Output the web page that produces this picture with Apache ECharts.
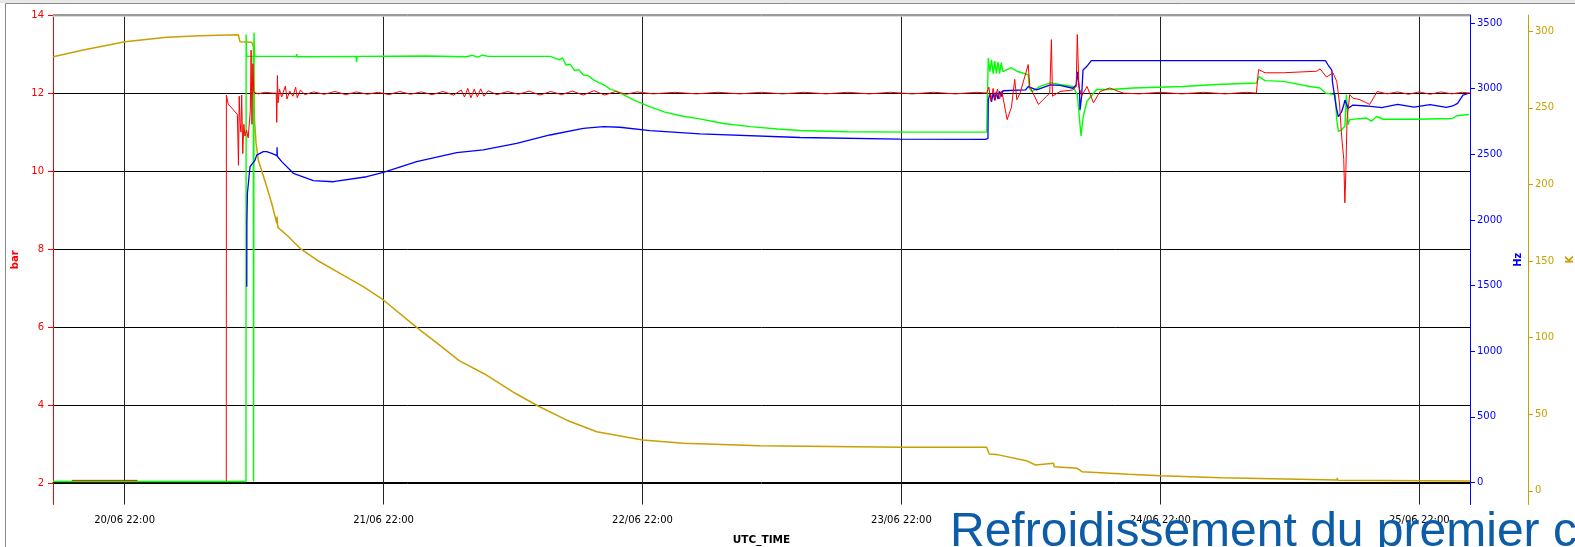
<!DOCTYPE html>
<html>
<head>
<meta charset="utf-8">
<title>Refroidissement du premier c</title>
<script src="https://cdn.jsdelivr.net/npm/echarts@6/dist/echarts.min.js"></script>
</head>
<body style="margin:0;background:#fff">
<div id="main" style="width:1575px;height:547px;"></div>
<script>
// time in hours since 20/06 00:00 UTC
const dayTicks = [22, 46, 70, 94, 118, 142];
const barTicks = [2, 4, 6, 8, 10, 12, 14];
const hzTicks = [0, 500, 1000, 1500, 2000, 2500, 3000, 3500];
const kTicks = [0, 50, 100, 150, 200, 250, 300];

// red - pressure (bar)
const redTime = [17.1, 23.2, 23.3,
  31.42, 31.43, 31.6, 32.05, 32.45, 32.55, 32.62, 32.7, 32.78, 32.85, 32.95, 33.05, 33.15, 33.3, 33.45, 33.55, 33.65, 33.72, 33.8, 33.88, 33.98,
  34.4, 35.0, 35.7, 36.05, 36.1, 36.16, 36.22, 36.35, 36.55, 36.9, 37.05, 37.3, 37.6, 37.85, 38.0, 38.3, 38.7,
  39.5, 40.5, 41.5, 42.5, 43.5, 44.5, 45.5, 46.5, 47.5, 48.5, 49.5, 50.5, 51.5, 52.5, 53.2, 53.5, 53.8, 54.1, 54.4, 54.7, 55.0, 55.3, 55.7,
  56.5, 57.5, 58.5, 59.5, 60.5, 61.5, 62.5, 63.5, 64.5, 65.5, 66.5, 67.5, 68.5, 69.5, 71, 73, 75, 77, 79, 81, 83, 85, 87, 89, 91, 93, 95, 97, 99, 101, 101.9,
  102.1, 102.3, 102.5, 102.7, 102.9, 103.1, 103.3, 103.8, 104.2, 104.5, 104.7, 105.0, 105.75, 105.9, 106.7, 107.46, 107.75, 107.9, 108.0, 108.7,
  109.9, 110.2, 110.3, 110.45, 110.7, 111.2, 111.8, 112.4, 113.3, 114.55, 116, 118, 120, 122, 124, 126, 126.9,
  127.1, 127.7, 129.4, 130.9, 132.5, 132.8, 133.4, 134.0, 134.35, 134.6, 134.8, 135.0, 135.1, 135.2, 135.3, 135.55, 135.85, 136.5, 137.1, 137.4, 138.1,
  139, 140, 141, 142, 143, 144, 145, 146, 146.7];
const redVal = [2.08, 2.08, null,
  2.06, 11.95, 11.72, 11.58, 11.45, 10.15, 11.92, 11.25, 11.0, 11.95, 10.45, 11.2, 10.9, 11.05, 10.85, 10.8, 11.55, 13.1, 11.2, 12.75, 12.02,
  11.98, 12.02, 12.0, 12.0, 11.25, 12.45, 11.75, 12.1, 11.9, 12.18, 11.85, 12.05, 11.92, 12.15, 11.88, 12.08, 11.96,
  12.03, 11.97, 12.04, 11.96, 12.03, 11.97, 12.02, 11.96, 12.04, 11.97, 12.03, 11.96, 12.04, 11.95, 12.08, 11.9, 12.12, 11.88, 12.1, 11.9, 12.11, 11.92, 12.06,
  11.96, 12.04, 11.97, 12.05, 11.95, 12.04, 11.96, 12.05, 11.95, 12.06, 11.95, 12.04, 11.97, 12.03, 11.98, 12.02, 11.98, 12.02, 11.98, 12.02, 11.98, 12.02, 11.98, 12.02, 11.98, 12.02, 11.98, 12.02, 11.98, 12.02, 12.0,
  12.15, 11.8, 12.12, 11.82, 12.1, 11.85, 12.05, 11.32, 11.64, 12.35, 11.83, 12.0, 12.73, 12.17, 11.71, 11.92, 12.0, 13.37, 11.92, 12.04,
  12.08, 12.17, 13.5, 12.17, 11.92, 12.17, 11.75, 12.04, 12.13, 12.0, 11.98, 12.02, 11.98, 12.02, 11.98, 12.02, 12.0,
  12.6, 12.52, 12.52, 12.54, 12.56, 12.62, 12.41, 12.52, 12.3, 11.75, 10.9, 10.3, 9.19, 10.05, 11.32, 11.96, 11.87, 11.83, 11.75, 11.71, 12.04,
  11.98, 12.03, 11.97, 12.03, 11.97, 12.03, 11.98, 12.02, 12.0];

// green - pressure (bar)
const greenTime = [15.36, 33.25, 33.26, 33.3, 33.93, 33.95, 33.98, 33.99, 34.05,
  37.9, 37.95, 38.0, 43.45, 43.5, 43.55, 50, 53.7, 54.2, 54.7, 55.2, 55.7, 61.45,
  62.3, 62.6, 62.9, 63.3, 63.7, 64.1, 64.5, 65.0, 65.5, 66.0, 66.5, 67.0, 67.6, 69.1, 70.6, 72.0, 73.5, 75.3, 77.5, 80.0, 82.5, 84.6, 89.0, 95.0, 101.9,
  102.05, 102.2, 102.35, 102.5, 102.65, 102.8, 102.95, 103.1, 103.25, 103.4, 104.15, 104.7, 105.75, 105.85, 106.1, 106.85, 107.8, 108.7, 109.9,
  110.3, 110.65, 110.85, 111.2, 112.1, 113.3, 115.5, 120.1, 123.2, 126.9, 127.15, 127.7, 129.4, 131.85, 132.8, 133.3, 134.2,
  134.35, 134.5, 134.8, 135.1, 135.25, 135.4, 135.55, 137.1, 137.55, 138.05, 138.65, 141.75, 145.1, 145.45, 146.6];
const greenVal = [2.05, 2.05, 13.5, 12.94, 12.94, 2.05, 2.05, 13.55, 12.94,
  12.94, 13.0, 12.93, 12.94, 12.8, 12.94, 12.95, 12.93, 12.97, 12.92, 12.97, 12.94, 12.94,
  12.85, 12.9, 12.72, 12.74, 12.58, 12.6, 12.47, 12.44, 12.33, 12.26, 12.2, 12.1, 12.05, 11.83, 11.66, 11.52, 11.42, 11.34, 11.22, 11.14, 11.08, 11.04, 11.01, 11.0, 11.0,
  12.9, 12.55, 12.85, 12.5, 12.82, 12.5, 12.8, 12.5, 12.78, 12.55, 12.65, 12.56, 12.47, 12.13, 12.04, 12.17, 12.26, 12.22, 12.17,
  11.96, 10.9, 11.4, 11.79, 12.09, 12.09, 12.13, 12.17, 12.22, 12.26, 12.42, 12.32, 12.3, 12.17, 12.13, 12.0, 11.96,
  11.32, 11.02, 11.06, 11.15, 11.96, 11.19, 11.32, 11.36, 11.28, 11.4, 11.33, 11.33, 11.35, 11.42, 11.45];

// blue - frequency (Hz)
const blueTime = [33.32, 33.33, 33.38, 33.62, 34.09, 34.24, 34.39, 34.85, 35.17, 35.63, 36.12, 36.13, 36.15, 36.56, 37.64, 39.49, 41.34, 44.44,
  45.98, 49.07, 52.78, 55.24, 58.34, 61.42, 64.51, 66.37, 67.91, 70.69, 75.33, 84.6, 93.86, 101.74, 102.02,
  102.05, 102.2, 102.35, 102.5, 102.65, 102.8, 102.95, 103.1, 103.3, 103.4, 105.5, 105.75, 106.53, 107.8, 108.7, 109.9, 110.2, 110.3, 110.5,
  110.55, 110.7, 110.83, 111.17, 111.6, 133.3, 133.55, 133.9, 133.95, 134.3, 134.5, 134.8, 135.0, 135.1, 135.4, 135.85, 137.1,
  138.5, 140, 141.5, 143, 144.5, 145.1, 145.55, 146.05, 146.6];
const blueVal = [1491, 1974, 2203, 2405, 2456, 2494, 2507, 2520, 2520, 2507, 2490, 2553, 2485, 2444, 2355, 2299, 2291, 2329,
  2363, 2444, 2512, 2533, 2584, 2647, 2698, 2710, 2706, 2680, 2655, 2628, 2615, 2613, 2620,
  2914, 2960, 2900, 2970, 2910, 2975, 2920, 2980, 2940, 2984, 2990, 3015, 2990, 3028, 3025, 3003, 3028, 3129, 2990,
  2837, 2940, 3142, 3168, 3213, 3213, 3180, 3140, 3052, 2862, 2786, 2824, 2875, 2913, 2850, 2875, 2868,
  2855, 2880, 2860, 2878, 2858, 2868, 2888, 2951, 2965];

// gold - temperature (K)
const goldTime = [15.39, 18.17, 22.04, 25.9, 28.99, 32.54, 32.69, 33.78, 33.93, 34.02, 34.18, 34.39, 35.17, 35.63, 36.1, 36.12, 36.2,
  37.17, 38.26, 39.8, 41.96, 44.12, 45.98, 48.98, 51.58, 53.0, 55.36, 58.2, 60.32, 62.93, 65.76, 70.0, 73.79, 80.88, 94.01, 101.9,
  102.14, 102.99, 105.58, 106.43, 108.1, 108.15, 108.2, 110.3, 110.73, 115.03, 118.04, 123.63, 134.37, 134.4, 134.45, 146.7];
const goldVal = [283.4, 287.7, 293.1, 296, 297.1, 297.7, 293.2, 292.8, 290, 244, 227, 216, 198.5, 187.7, 174.6, 179, 172,
  166, 158.3, 150.7, 142, 133.3, 124.6, 107.2, 93, 85, 76.3, 63.7, 55.4, 46.3, 38.6, 33.2, 31.1, 29.5, 28.5, 28.5,
  24.1, 23.5, 19.7, 16.9, 18, 15.8, 15.5, 14.7, 12.5, 10.8, 9.9, 8.6, 7.1, 8.5, 7.0, 6.5];

function pairs(t, v) {
  return t.map((x, i) => [x, v[i] === null ? '-' : v[i]]);
}

function dayLabel(v) {
  const d = 20 + Math.floor(v / 24);
  const h = Math.round(v % 24);
  return d + '/06 ' + (h < 10 ? '0' + h : h) + ':00';
}

const plain = v => String(v);
const labelFont = { fontFamily: 'DejaVu Sans', fontSize: 10 };
const nameFont = { fontFamily: 'DejaVu Sans', fontSize: 10, fontWeight: 'bold' };

var myChart = echarts.init(document.getElementById('main'));

option = {
  animation: false,
  backgroundColor: '#fff',
  grid: {
    left: 53, right: 105, top: 15, bottom: 42.5,
    outerBoundsMode: 'none', containLabel: false
  },
  graphic: [
    { type: 'rect', shape: { x: 0, y: 0, width: 1575, height: 3 }, style: { fill: '#e8e8e8' } },
    { type: 'line', shape: { x1: 5.5, y1: 3.5, x2: 1575, y2: 3.5 }, style: { stroke: '#8a8a8a', lineWidth: 1 } },
    { type: 'line', shape: { x1: 5.5, y1: 3.5, x2: 5.5, y2: 547 }, style: { stroke: '#8a8a8a', lineWidth: 1 } },
    // plot outline at the top
    { type: 'line', z: 50, shape: { x1: 53, y1: 14.5, x2: 1470, y2: 14.5 }, style: { stroke: '#9a9a9a', lineWidth: 1 } },
    { type: 'line', z: 50, shape: { x1: 53, y1: 16, x2: 1470, y2: 16 }, style: { stroke: '#cfcfcf', lineWidth: 1.5 } },
    {
      type: 'text', x: 950, y: 532.5, z: 100,
      style: {
        text: 'Refroidissement du premier c',
        font: '48px "Liberation Sans", Arial, sans-serif',
        fill: '#0d5ca8', verticalAlign: 'middle', align: 'left'
      }
    }
  ],
  xAxis: {
    type: 'value', min: 15.36, max: 146.7,
    name: 'UTC_TIME', nameLocation: 'middle', nameGap: 30,
    nameTextStyle: Object.assign({ color: '#000' }, nameFont, { fontSize: 10.5 }),
    axisLine: { lineStyle: { color: '#000', width: 1 } },
    axisTick: { show: true, length: 6, customValues: dayTicks, lineStyle: { color: '#222' } },
    axisLabel: Object.assign({ color: '#000', margin: 11, customValues: dayTicks, formatter: dayLabel }, labelFont),
    splitLine: { show: true, lineStyle: { color: '#222', width: 1 } }
  },
  yAxis: [
    {
      type: 'value', position: 'left', min: 1.462, max: 14,
      name: 'bar', nameLocation: 'middle', nameGap: 25,
      nameTextStyle: Object.assign({ color: '#ff0000' }, nameFont),
      axisLine: { show: true, lineStyle: { color: '#ff0000', width: 1 } },
      axisTick: { show: true, length: 5, customValues: barTicks, lineStyle: { color: '#ff0000' } },
      axisLabel: Object.assign({ color: '#ff0000', margin: 9, customValues: barTicks, formatter: plain }, labelFont),
      splitLine: { show: true, lineStyle: { color: '#000', width: 1 } }
    },
    {
      type: 'value', position: 'right', min: -167.6, max: 3561,
      name: 'Hz', nameLocation: 'middle', nameGap: 39,
      nameTextStyle: Object.assign({ color: '#0000ff' }, nameFont),
      axisLine: { show: true, lineStyle: { color: '#0000ff', width: 1 } },
      axisTick: { show: true, length: 5, customValues: hzTicks, lineStyle: { color: '#0000ff' } },
      axisLabel: Object.assign({ color: '#0000ff', margin: 7, customValues: hzTicks, formatter: plain }, labelFont),
      splitLine: { show: false }
    },
    {
      type: 'value', position: 'right', offset: 58, min: -8.9, max: 310.6,
      name: 'K', nameLocation: 'middle', nameGap: 33,
      nameTextStyle: Object.assign({ color: '#c9a000' }, nameFont),
      axisLine: { show: true, lineStyle: { color: '#c9a000', width: 1 } },
      axisTick: { show: true, length: 5, customValues: kTicks, lineStyle: { color: '#c9a000' } },
      axisLabel: Object.assign({ color: '#c9a000', margin: 7, customValues: kTicks, formatter: plain }, labelFont),
      splitLine: { show: false }
    }
  ],
  series: [
    { name: 'K', type: 'line', yAxisIndex: 2, showSymbol: false, symbol: 'none',
      data: pairs(goldTime, goldVal), lineStyle: { color: '#c9a000', width: 1.5 } },
    { name: 'green', type: 'line', yAxisIndex: 0, showSymbol: false, symbol: 'none',
      data: pairs(greenTime, greenVal), lineStyle: { color: '#00ff00', width: 1.4 } },
    { name: 'Hz', type: 'line', yAxisIndex: 1, showSymbol: false, symbol: 'none',
      data: pairs(blueTime, blueVal), lineStyle: { color: '#0000ff', width: 1.3 } },
    { name: 'bar', type: 'line', yAxisIndex: 0, showSymbol: false, symbol: 'none',
      data: pairs(redTime, redVal), lineStyle: { color: '#ff0000', width: 1 } }
  ]
};

myChart.setOption(option);
</script>
</body>
</html>
